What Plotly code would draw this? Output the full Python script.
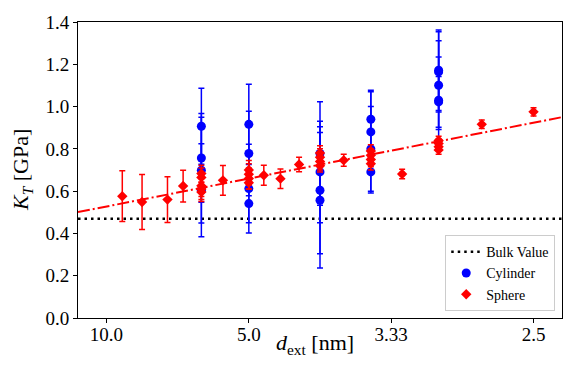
import plotly.graph_objects as go

# cylinder results: diameter d [nm], bulk modulus K_T [GPa], error
cyl_d = [6, 6, 6, 6, 5, 5, 5, 5, 4, 4, 4, 4, 3.5, 3.5, 3.5, 3.5, 3, 3, 3, 3, 3]
cyl_k = [0.907, 0.757, 0.699, 0.604, 0.916, 0.778, 0.612, 0.541,
         0.778, 0.691, 0.604, 0.557, 0.940, 0.880, 0.800, 0.691,
         1.172, 1.164, 1.101, 1.030, 1.022]
cyl_err = [0.18, 0.21, 0.25, 0.22, 0.19, 0.20, 0.21, 0.09,
           0.245, 0.24, 0.30, 0.32, 0.137, 0.19, 0.20, 0.10,
           0.19, 0.19, 0.21, 0.205, 0.12]

# sphere results
sph_d = [9, 8, 7, 6.5, 6, 6, 6, 6, 6, 5.5, 5, 5, 5, 5, 4.75, 4.5, 4.25,
         4, 4, 4, 4, 3.75, 3.5, 3.5, 3.5, 3.5, 3.25, 3, 3, 3, 3, 2.75, 2.5]
sph_k = [0.576, 0.549, 0.560, 0.624, 0.683, 0.665, 0.625, 0.610, 0.596,
         0.651, 0.700, 0.680, 0.660, 0.640, 0.675, 0.659, 0.726,
         0.780, 0.760, 0.740, 0.720, 0.746, 0.790, 0.770, 0.750, 0.730,
         0.681, 0.840, 0.825, 0.810, 0.795, 0.916, 0.975]
sph_err = [0.12, 0.13, 0.108, 0.075, 0.04, 0.045, 0.05, 0.05, 0.045,
           0.07, 0.045, 0.05, 0.05, 0.03, 0.047, 0.046, 0.034,
           0.035, 0.04, 0.04, 0.03, 0.028, 0.03, 0.03, 0.035, 0.03,
           0.022, 0.02, 0.02, 0.02, 0.02, 0.02, 0.02]

# linear fit in 1/d (endpoints) and bulk value
fit_inv_d = [0.08, 0.42]
fit_k = [0.501, 0.950]
bulk_k = 0.47

tick_vals = [0.1, 0.2, 0.3, 0.4]
tick_text = ["10.0", "5.0", "3.33", "2.5"]

font = "Liberation Serif"
fig = go.Figure()

fig.add_trace(go.Scatter(x=fit_inv_d, y=[bulk_k, bulk_k], mode="lines", name="Bulk Value",
                         line=dict(color="black", width=2.5, dash="2.5px,4px")))

fig.add_trace(go.Scatter(x=[1 / d for d in cyl_d], y=cyl_k, mode="markers", name="Cylinder",
                         marker=dict(color="#0000ff", size=9, symbol="circle"),
                         error_y=dict(type="data", array=cyl_err, color="#0000ff",
                                      thickness=1.5, width=3)))

fig.add_trace(go.Scatter(x=[1 / d for d in sph_d], y=sph_k, mode="markers", name="Sphere",
                         marker=dict(color="#ff0000", size=8, symbol="diamond"),
                         error_y=dict(type="data", array=sph_err, color="#ff0000",
                                      thickness=1.5, width=3)))

fig.add_trace(go.Scatter(x=fit_inv_d, y=fit_k, mode="lines", showlegend=False,
                         line=dict(color="#ff0000", width=2, dash="12px,3px,2px,3px")))

# page body has an 8px margin, so the figure is sized to fit the window
fig.update_layout(
    width=565, height=372,
    margin=dict(l=69.5, r=11, t=13.7, b=62.3),
    plot_bgcolor="white", paper_bgcolor="white",
    font=dict(family=font, size=19, color="black"),
    showlegend=True,
    legend=dict(x=0.986, y=0.023, xanchor="right", yanchor="bottom",
                bgcolor="rgba(255,255,255,0.8)", bordercolor="#cccccc", borderwidth=1,
                font=dict(family=font, size=14, color="black"),
                tracegroupgap=0, itemwidth=30),
    annotations=[
        dict(text="<i>d</i><sub>ext</sub> [nm]", xref="paper", yref="paper",
             x=0.49, y=0, xanchor="center", yanchor="middle", yshift=-26,
             showarrow=False, font=dict(family=font, size=22, color="black")),
        dict(text="<i>K</i><sub><i>T</i></sub> [GPa]", xref="paper", yref="paper",
             x=0, y=0.5, xanchor="center", yanchor="middle", xshift=-56,
             textangle=-90, showarrow=False,
             font=dict(family=font, size=22, color="black")),
    ],
)
fig.update_xaxes(range=[0.080, 0.420], tickvals=tick_vals, ticktext=tick_text,
                 showgrid=False, zeroline=False, showline=True, mirror=True,
                 linecolor="black", linewidth=1, ticks="outside", ticklen=4,
                 tickcolor="black", automargin=False, ticklabelstandoff=-5)
fig.update_yaxes(range=[0, 1.4], dtick=0.2, tickformat=".1f",
                 showgrid=False, zeroline=False, showline=True, mirror=True,
                 linecolor="black", linewidth=1, ticks="outside", ticklen=4,
                 tickcolor="black", automargin=False)

fig.write_html("out.html")
